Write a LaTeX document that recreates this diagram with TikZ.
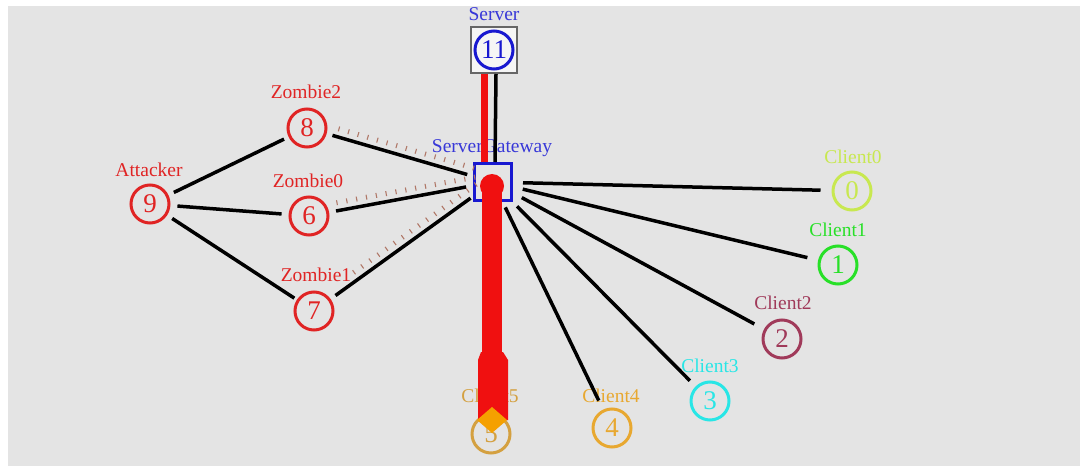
\documentclass[tikz,border=0pt]{standalone}
\usepackage{fontspec}
\setmainfont{Liberation Serif}
\usetikzlibrary{calc,decorations.pathreplacing}
\definecolor{bg}{HTML}{E4E4E4}
\definecolor{zred}{HTML}{E02424}
\definecolor{sblue}{HTML}{1818D0}
\definecolor{lblue}{HTML}{3838D8}
\definecolor{cA}{HTML}{C8E850}
\definecolor{cB}{HTML}{28E028}
\definecolor{cC}{HTML}{A03A5A}
\definecolor{cD}{HTML}{28E6E6}
\definecolor{cE}{HTML}{E8A830}
\definecolor{cF}{HTML}{D4A040}
\definecolor{pkt}{HTML}{B07868}
\definecolor{flow}{HTML}{F01010}
\definecolor{dia}{HTML}{F5A000}
\tikzset{
  nd/.style={circle, draw=#1, text=#1, line width=3pt, minimum size=38pt, inner sep=0pt,
    font=\fontsize{27}{27}\selectfont},
  lbl/.style={text=#1, inner sep=0pt, font=\fontsize{19.5}{19.5}\selectfont},
  link/.style={black, line width=3.5pt},
  ticksty/.style={draw=pkt, line width=1.1pt, decorate,
    decoration={ticks, segment length=10pt, amplitude=2.5pt}}
}
\begin{document}
\begin{tikzpicture}[x=1pt,y=-1pt]
\useasboundingbox (0,0) rectangle (1086,473);
\fill[white] (0,0) rectangle (1086,473);
\fill[bg] (8,6) rectangle (1080,466);

% server
\node[draw=black!60, fill=black!4, line width=2pt, minimum size=46pt, inner sep=0pt] (srvbox) at (494,50) {};
\node[nd=sblue] (n11) at (494,50) {11};
\node[lbl=lblue] (l11) at (494,14) {Server};

% gateway
\node[draw=sblue, line width=3pt, minimum size=37pt, inner sep=0pt] (gw) at (493,182) {};
\node[lbl=lblue] (lgw) at (492,148) {ServerGateway};

% attacker and zombies
\node[nd=zred] (n9) at (150,204) {9};
\node[lbl=zred] (l9) at (149,170) {Attacker};
\node[nd=zred] (n8) at (307,128) {8};
\node[lbl=zred] (l8) at (306,92) {Zombie2};
\node[nd=zred] (n6) at (309,216) {6};
\node[lbl=zred] (l6) at (308,181) {Zombie0};
\node[nd=zred] (n7) at (314,311) {7};
\node[lbl=zred] (l7) at (316,275) {Zombie1};

% clients
\node[nd=cA] (n0) at (852,191) {0};
\node[lbl=cA] (l0) at (853,157) {Client0};
\node[nd=cB] (n1) at (838,265) {1};
\node[lbl=cB] (l1) at (838,230) {Client1};
\node[nd=cC] (n2) at (782,339) {2};
\node[lbl=cC] (l2) at (783,303) {Client2};
\node[nd=cD] (n3) at (710,401) {3};
\node[lbl=cD] (l3) at (710,366) {Client3};
\node[nd=cE] (n4) at (612,428) {4};
\node[lbl=cE] (l4) at (611,396) {Client4};
\node[nd=cF] (n5) at (491,434) {5};
\node[lbl=cF] (l5) at (490,396) {Client5};

% links attacker - zombies
\draw[link, shorten <=6pt, shorten >=5pt] (n9) -- (n8);
\draw[link, shorten <=7pt, shorten >=7pt] (n9) -- (n6);
\draw[link, shorten <=6pt, shorten >=3pt] (n9) -- (n7);
% links zombies - gateway
\draw[link, shorten <=6pt, shorten >=6pt] (n8) -- (gw);
\draw[link, shorten <=7pt, shorten >=7pt] (n6) -- (gw);
\draw[link, shorten <=6pt, shorten >=3pt] (n7) -- (gw);
% packet ticks
\draw[ticksty] ($(n8)!0.16!(gw)!8pt!90:(gw)$) -- ($(n8)!0.92!(gw)!8pt!90:(gw)$);
\draw[ticksty] ($(n6)!0.16!(gw)!8pt!90:(gw)$) -- ($(n6)!0.92!(gw)!8pt!90:(gw)$);
\draw[ticksty] ($(n7)!0.25!(gw)!8pt!90:(gw)$) -- ($(n7)!0.93!(gw)!8pt!90:(gw)$);

% links gateway - clients
\draw[link, shorten <=10pt, shorten >=11pt] (gw) -- (n0);
\draw[link, shorten <=10pt, shorten >=11pt] (gw) -- (n1);
\draw[link, shorten <=10pt, shorten >=11pt] (gw) -- (n2);
\draw[link, shorten <=6pt, shorten >=8pt] (gw) -- (n3);
\draw[link, shorten <=6pt, shorten >=10pt] (gw) -- (n4);

% server - gateway
\draw[link] ([xshift=2pt]srvbox.south) -- ([xshift=2pt]gw.north);
\draw[flow, line width=7pt] ([xshift=-10pt]srvbox.south) -- ([xshift=-9pt]gw.north);

% flood towards client 5
\fill[flow] (492,186) circle (12pt);
\fill[flow] (482,186) rectangle (502,354);
\fill[flow] (481,352) -- (503,352) -- (508,360) -- (508,420) -- (478,420) -- (478,360) -- cycle;
\fill[dia] (492,407) -- (507,420) -- (492,433) -- (477,420) -- cycle;
\end{tikzpicture}
\end{document}
